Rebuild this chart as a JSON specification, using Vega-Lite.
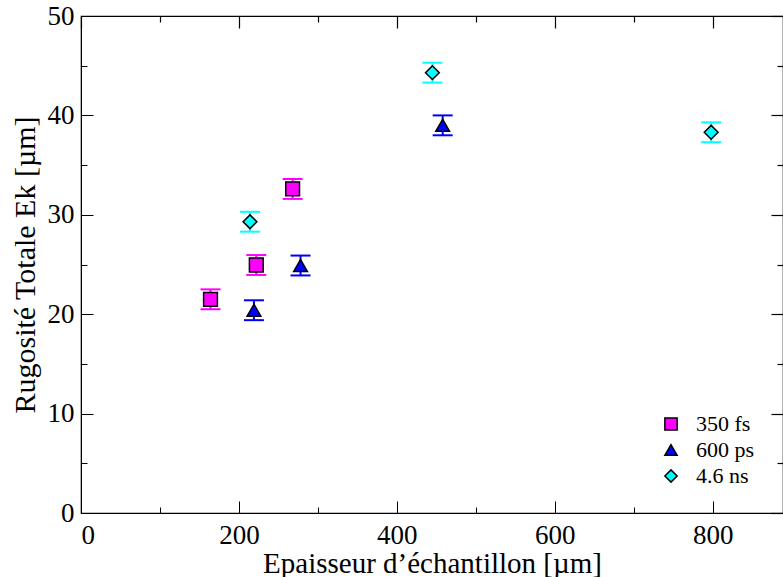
{
  "$schema": "https://vega.github.io/schema/vega-lite/v6.json",
  "width": 702,
  "height": 497,
  "autosize": "none",
  "padding": {"left": 81, "top": 16, "right": 0, "bottom": 64},
  "background": "white",
  "config": {
    "view": {"stroke": "black", "strokeWidth": 1.2},
    "font": "Liberation Serif",
    "axis": {
      "grid": false,
      "domainColor": "black",
      "tickColor": "black",
      "labelFont": "Liberation Serif",
      "titleFont": "Liberation Serif",
      "labelFontSize": 27,
      "titleFontSize": 29,
      "titleFontWeight": "normal",
      "labelColor": "black",
      "titleColor": "black"
    }
  },
  "resolve": {"axis": {"x": "independent", "y": "independent"}},
  "data": {
    "values": [
      {"series": "350 fs", "x": 164, "y": 21.5, "lo": 20.5, "hi": 22.5},
      {"series": "350 fs", "x": 222, "y": 24.95, "lo": 23.95, "hi": 25.95},
      {"series": "350 fs", "x": 268, "y": 32.6, "lo": 31.6, "hi": 33.6},
      {"series": "600 ps", "x": 219, "y": 20.4, "lo": 19.4, "hi": 21.4},
      {"series": "600 ps", "x": 278, "y": 24.9, "lo": 23.9, "hi": 25.9},
      {"series": "600 ps", "x": 458, "y": 39.0, "lo": 38.0, "hi": 40.0},
      {"series": "4.6 ns", "x": 214, "y": 29.3, "lo": 28.3, "hi": 30.3},
      {"series": "4.6 ns", "x": 445, "y": 44.3, "lo": 43.3, "hi": 45.3},
      {"series": "4.6 ns", "x": 798, "y": 38.3, "lo": 37.3, "hi": 39.3}
    ]
  },
  "layer": [
    {
      "mark": {"type": "rule", "strokeWidth": 2},
      "encoding": {
        "x": {"field": "x", "type": "quantitative", "scale": {"domain": [0, 889], "nice": false},
          "axis": {"values": [0,100,200,300,400,500,600,700,800], "labelExpr": "datum.value % 200 == 0 ? datum.label : ''",
            "tickSize": {"condition": {"test": "datum.value % 200 == 0", "value": -12}, "value": -6}, "labelPadding": 21,
            "title": "Epaisseur d’échantillon [µm]", "titlePadding": 1}},
        "y": {"field": "lo", "type": "quantitative", "scale": {"domain": [0, 50], "nice": false},
          "axis": {"values": [0,5,10,15,20,25,30,35,40,45,50], "labelExpr": "datum.value % 10 == 0 ? datum.label : ''",
            "tickSize": {"condition": {"test": "datum.value % 10 == 0", "value": -12}, "value": -6}, "labelPadding": 19,
            "title": "Rugosité Totale Ek [µm]", "titlePadding": 7, "titleFontSize": 30}},
        "y2": {"field": "hi"},
        "stroke": {"field": "series", "type": "nominal", "scale": {"range": ["#ff00ff", "#00ffff", "#0000ff"]}, "legend": null}
      }
    },
    {
      "mark": {"type": "tick", "orient": "horizontal", "size": 20, "thickness": 2, "opacity": 1},
      "encoding": {
        "x": {"field": "x", "type": "quantitative",
          "axis": {"orient": "top", "values": [0,100,200,300,400,500,600,700,800], "labels": false, "title": null, "domain": true, "ticks": true, "tickColor": "black", "tickWidth": 1.2, "zindex": 1,
            "tickSize": {"condition": {"test": "datum.value % 200 == 0", "value": -12}, "value": -6}}},
        "y": {"field": "lo", "type": "quantitative",
          "axis": {"orient": "right", "values": [0,5,10,15,20,25,30,35,40,45,50], "labels": false, "title": null, "domain": true, "ticks": true, "tickColor": "black", "tickWidth": 1.2, "zindex": 1,
            "tickSize": {"condition": {"test": "datum.value % 10 == 0", "value": -12}, "value": -6}}},
        "fill": {"field": "series", "type": "nominal", "scale": {"range": ["#ff00ff", "#00ffff", "#0000ff"]}, "legend": null}
      }
    },
    {
      "mark": {"type": "tick", "orient": "horizontal", "size": 20, "thickness": 2, "opacity": 1},
      "encoding": {
        "x": {"field": "x", "type": "quantitative", "axis": null},
        "y": {"field": "hi", "type": "quantitative", "axis": null},
        "fill": {"field": "series", "type": "nominal", "legend": null}
      }
    },
    {
      "mark": {"type": "point", "filled": true, "stroke": "black", "strokeWidth": 1.5, "opacity": 1, "size": 190},
      "encoding": {
        "x": {"field": "x", "type": "quantitative", "axis": null},
        "y": {"field": "y", "type": "quantitative", "axis": null},
        "color": {"field": "series", "type": "nominal", "scale": {"domain": ["350 fs", "600 ps", "4.6 ns"], "range": ["#ff00ff", "#0000ff", "#00ffff"]},
          "legend": {"title": null, "orient": "none", "legendX": 579, "legendY": 397, "labelFont": "Liberation Serif", "labelFontSize": 22, "labelColor": "black",
            "symbolSize": 150, "rowPadding": 4, "labelOffset": 14,
            "encode": {"symbols": {"stroke": {"value": "black"}, "strokeWidth": {"value": 1.5}}}}},
        "shape": {"field": "series", "type": "nominal", "scale": {"domain": ["350 fs", "600 ps", "4.6 ns"], "range": ["square", "triangle-up", "diamond"]},
          "legend": {"title": null, "orient": "none", "legendX": 579, "legendY": 397, "labelFont": "Liberation Serif", "labelFontSize": 22, "labelColor": "black",
            "symbolSize": 150, "rowPadding": 4, "labelOffset": 14,
            "encode": {"symbols": {"stroke": {"value": "black"}, "strokeWidth": {"value": 1.5}}}}}
      }
    }
  ]
}
